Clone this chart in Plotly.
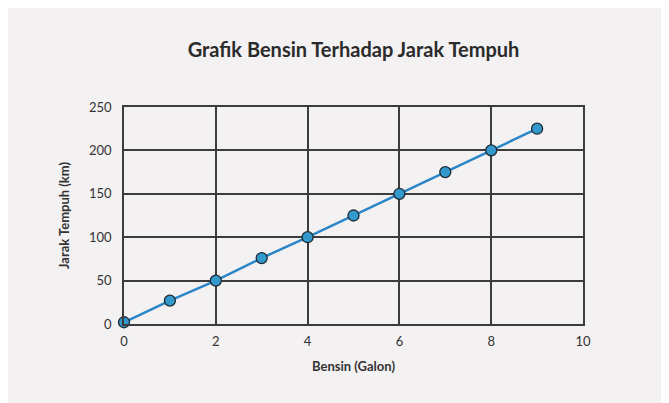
import plotly.graph_objects as go

bensin = [0, 1, 2, 3, 4, 5, 6, 7, 8, 9]
jarak = [2, 27, 50, 76, 100, 125, 150, 175, 200, 225]

x_ticks = [0, 2, 4, 6, 8, 10]
y_ticks = [0, 50, 100, 150, 200, 250]

BG = "#f3f1f2"
GRID = "#3c3c3c"

fig = go.Figure()
fig.add_trace(go.Scatter(
    x=bensin, y=jarak, mode="lines+markers",
    line=dict(color="#2b86c8", width=2.5),
    marker=dict(size=11, color="#3399cc", line=dict(color="#1f2a33", width=1.3)),
    cliponaxis=False, showlegend=False,
))

W, H = 661, 395
L, R, T, B = 116, 86, 99, 79

fig.update_layout(
    width=W, height=H,
    margin=dict(l=L, r=R, t=T, b=B),
    paper_bgcolor=BG, plot_bgcolor=BG,
    font=dict(family="Lato, 'Open Sans', sans-serif", color="#333333"),
    title=dict(text="<b>Grafik Bensin Terhadap Jarak Tempuh</b>",
               x=0.5, xref="paper", xanchor="center",
               y=1 - 42 / H, yanchor="middle",
               font=dict(size=20, color="#2b2b2b")),
    xaxis=dict(range=[0, 10], tickvals=x_ticks, showgrid=True, gridcolor=GRID, gridwidth=1.5,
               showline=True, linecolor=GRID, linewidth=1.5, mirror=True, zeroline=False,
               ticks="outside", ticklen=5, tickcolor="rgba(0,0,0,0)",
               tickfont=dict(size=13, color="#333333"),
               title=dict(text="<b>Bensin (Galon)</b>", font=dict(size=13, color="#333333"), standoff=14)),
    yaxis=dict(range=[0, 250], tickvals=y_ticks, showgrid=True, gridcolor=GRID, gridwidth=1.5,
               showline=True, linecolor=GRID, linewidth=1.5, mirror=True, zeroline=False,
               ticks="outside", ticklen=8, tickcolor="rgba(0,0,0,0)",
               tickfont=dict(size=13, color="#333333"),
               title=dict(text="<b>Jarak Tempuh (km)</b>", font=dict(size=13, color="#333333"), standoff=16)),
)

fig.write_html("out.html")
